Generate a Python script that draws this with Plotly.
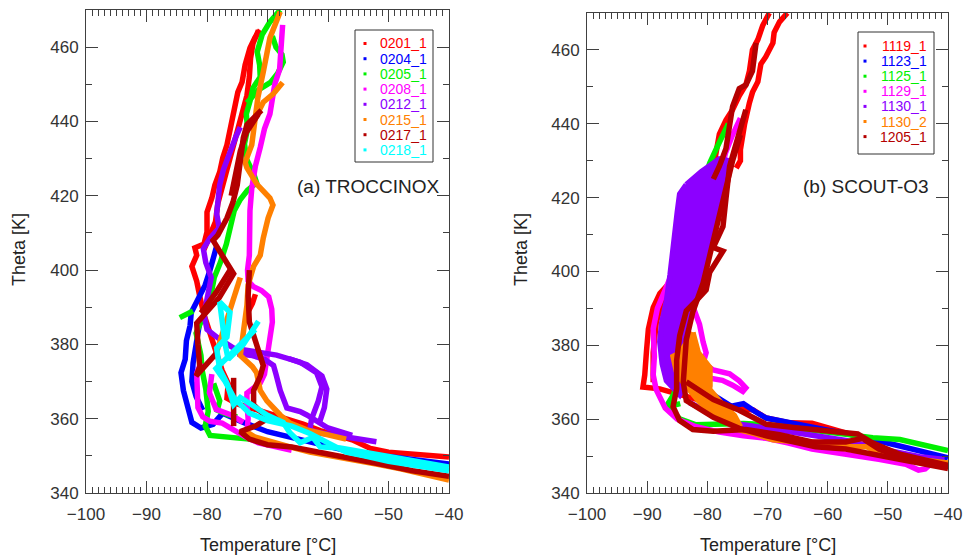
import plotly.graph_objects as go

# ---------------------------------------------------------------------------
# Flight profiles: (temperature [degC], potential temperature [K]); None = gap
# ---------------------------------------------------------------------------

# (a) TROCCINOX
F0201_1 = [
    (-40, 349.7), (-45, 350.3), (-50, 351), (-53, 352), (-56, 354.3), (-59, 355.8), (-61.3, 356.8),
    (-64, 358.5), (-68, 360.5), (-72, 362.5), (-75, 364), (-76.7, 365.5), (-76.5, 369.5), (-77.5, 373),
    (-79, 380), (-80.5, 388), (-81.2, 393), (-81.7, 397), (-82.5, 401), (-81.7, 404), (-82, 406),
    (-80.5, 407), (-80, 410.3), (-80, 415.6), (-79.2, 419.4), (-78.7, 422.9), (-77.9, 426.4),
    (-77.4, 430.2), (-76.7, 433.7), (-76.2, 437.2), (-75.9, 440.9), (-75.4, 444.4), (-74.9, 447.9),
    (-74.2, 450.6), (-73.7, 455.2), (-72.9, 459.8), (-72.1, 462.5), (-71.2, 464.6),
    None,
    (-80.5, 405.5), (-79.6, 409), (-78.6, 413), (-78.2, 418), (-77, 425), (-76, 431), (-75, 437),
    (-74.2, 442), (-73.4, 447), (-73, 452), (-72.8, 457), (-72.4, 461), (-71.5, 464.5),
    None,
    (-73.3, 388.5), (-72.5, 391), (-72, 393.5),
]

F0204_1 = [
    (-40, 347.8), (-44.5, 348.8), (-48.6, 349.8), (-52, 350.2), (-56, 351), (-60, 352.5), (-65, 354.5),
    (-70, 356.5), (-74, 359), (-77.4, 361.5), (-79, 358.5), (-81, 357.5), (-82.5, 359), (-83.2, 362.9),
    (-83.9, 367.6), (-84.3, 372.4), (-83.6, 376), (-83.4, 381), (-82.8, 385), (-82.6, 388.6),
    (-81.5, 392), (-80.3, 396), (-79.5, 400), (-79, 403), (-78.4, 406.5),
    None,
    (-80.7, 362.3), (-81.8, 366), (-82.5, 370), (-82.3, 375), (-81.8, 380), (-81.2, 386),
]

F0205_1 = [
    (-73, 354.5), (-76, 354.8), (-79.5, 355.5), (-80.3, 358), (-79.8, 362), (-80.2, 368), (-80.8, 373),
    (-81, 377), (-81.8, 383), (-80.5, 388), (-79.5, 392), (-78.8, 398), (-77.8, 402), (-76.8, 407),
    (-76.2, 412), (-75.5, 416), (-74.5, 419), (-73.3, 421.5), (-71.8, 423.5), (-72.3, 426),
    (-73.5, 430), (-73.8, 434), (-73.3, 438), (-73.5, 442), (-72.8, 446), (-72.4, 449), (-71.2, 452),
    (-71.3, 455.2), (-71.7, 458.7), (-70.9, 463.3), (-69.6, 466.8), (-67.9, 470),
    None,
    (-73.4, 445), (-71.5, 448.5), (-69.5, 450.5), (-68.3, 453), (-67.4, 456), (-67.6, 458),
    (-68.6, 460), (-69.2, 463),
    None,
    (-84.5, 387.2), (-83.5, 388), (-82.3, 389),
    None,
    (-78.9, 369.5), (-77.9, 364.8), (-78.3, 362.3), (-76.5, 361), (-75, 360.5),
]

F0208_1 = [
    (-66, 351.5), (-69, 352.5), (-71.5, 353.5), (-73.5, 355), (-75.5, 357), (-77.5, 358.8),
    (-79.5, 359.3), (-80.7, 360.5), (-81.5, 363), (-81.5, 366), (-81.7, 369), (-81.7, 372.3), (-81, 375),
    None,
    (-73.4, 356.5), (-73.2, 360), (-73.4, 364), (-73.4, 366.9), (-72.5, 368), (-71.2, 369.6),
    (-70.5, 372), (-70.1, 377), (-69.6, 381.9), (-69.2, 386), (-69.3, 389.5), (-69.8, 392.8),
    (-71, 394.5), (-72.3, 395.5), (-73.2, 397.1), (-73.3, 400), (-73, 404), (-73, 410), (-72.9, 416),
    (-72.6, 422), (-72, 428), (-71.2, 433), (-70.5, 438), (-69.6, 442), (-69.2, 446), (-68.8, 450),
    (-68, 454), (-67.8, 458), (-67.8, 462), (-67.5, 466),
    None,
    (-79.2, 372), (-79.6, 367), (-78.5, 362.5), (-76, 361), (-74, 359),
]

F0212_1 = [
    (-52, 353.8), (-54, 354.3), (-56.4, 354.8), (-59, 355.5), (-61.5, 356.2), (-63, 357.1),
    (-62.7, 360), (-61.6, 364.8), (-61, 368.6), (-61.9, 372.4), (-64.6, 375.2), (-68.5, 377.1),
    (-72.3, 378.1), (-75.6, 379), (-78, 381.5), (-80, 384), (-80.5, 388), (-80, 393), (-79.3, 398),
    (-80.2, 402), (-80.6, 405.7), (-79.5, 408.6), (-78, 411.4), (-78.4, 415.2), (-77.9, 422.9),
    (-77.3, 427), (-76.2, 432), (-75.2, 436), (-74.5, 438.5),
    None,
    (-56, 355.5), (-60, 357.5), (-63.5, 361), (-64.6, 361.9), (-66.8, 362.9), (-67.9, 367.6),
    (-68.6, 372), (-69, 374.3), (-70.5, 376), (-72.5, 377), (-75, 377.5),
    None,
    (-61.5, 358.5), (-60.6, 363), (-60.2, 368), (-61, 371.5), (-63.5, 374.5), (-66.5, 376.2),
]

F0215_1 = [
    (-67.9, 469.5), (-69.6, 462.5), (-70.7, 453.3), (-71.6, 446.3), (-72.1, 440), (-72.6, 433.7),
    (-73.7, 429), (-73.4, 427.5), (-71.7, 423), (-69.6, 419.4), (-69.1, 417.5), (-69.9, 414),
    (-70.7, 408.6), (-71.2, 404), (-72.3, 401), (-73.2, 396), (-73.4, 390.5), (-74, 382), (-74.5, 377),
    (-72.5, 374), (-71.8, 372.4), (-71.2, 367.6), (-70.1, 364.8), (-67.9, 361), (-66.3, 358.8),
    (-63.5, 357), (-60, 355.5), (-57, 354.5),
    None,
    (-40, 343.5), (-45, 345.5), (-48, 346.5), (-52, 347.8), (-55.5, 348.8), (-59, 349.7), (-63, 351),
    (-66.3, 352.4), (-69, 353.5), (-72, 355), (-74, 357),
    None,
    (-67.5, 450.5), (-69, 447.5), (-70.7, 445.2), (-72, 441),
    None,
    (-74.5, 398), (-75.5, 393), (-76.7, 387), (-77.5, 382), (-78.4, 378),
]

F0217_1 = [
    (-71, 443), (-72, 441.5), (-73.4, 439.1), (-74, 435.6), (-74.5, 428.3), (-75, 422.9),
    (-75.7, 418.3), (-76.7, 414), (-78.2, 409.4), (-79, 408), (-77.5, 404), (-75.6, 399),
    (-78, 392.5), (-80, 389), (-81.7, 385.7), (-81.5, 380), (-81.2, 374), (-81.8, 371.5),
    (-80, 374.5), (-78.5, 377.5),
    None,
    (-40, 344.5), (-46, 346), (-52, 348), (-56, 349.2), (-60, 350.3), (-66, 352.4), (-70, 353),
    (-73, 354.5), (-74.5, 356.5), (-72, 358), (-70, 360), (-72.3, 363.8), (-72.3, 367.6),
    (-71.2, 371.4), (-70.7, 374.3), (-71.8, 380), (-73, 386), (-73.2, 393), (-73, 400),
    None,
    (-75.6, 358), (-75.6, 364), (-75.6, 371),
    None,
    (-71.5, 442), (-73.5, 437), (-74.5, 432), (-75.2, 426), (-76, 420),
    None,
    (-76, 400.5), (-78.5, 394), (-81, 388.5),
]

F0218_1 = [
    (-40, 347), (-44, 348.2), (-48, 349.4), (-52.6, 350.8), (-55.2, 351.6), (-58, 352.1),
    (-61.3, 352.4), (-62.5, 355), (-64.6, 353.5), (-66.3, 356.2), (-67.4, 359), (-70.1, 361),
    (-71.8, 362.9), (-73.4, 364.8), (-74.5, 365.7), (-75.6, 363.8), (-76.2, 366.7), (-76.7, 369.5),
    (-77.9, 373.3), (-78.4, 379), (-76.7, 382), (-76.2, 388.6), (-77.9, 391.4), (-77.5, 386),
    (-77, 380), (-76.5, 376), (-74, 380), (-71.5, 386.2),
    None,
    (-40, 346), (-45, 347.2), (-50, 348.5), (-54, 350), (-57, 351), (-60, 353.5), (-63, 356),
    (-66, 358), (-70, 359.5), (-73, 361.5), (-75.5, 365.5), (-77, 370), (-78.5, 373.5), (-76, 377.5),
    (-73.5, 381.5), (-72, 384),
]

# (b) SCOUT-O3
F1119_1 = [
    (-55, 355.3), (-59.3, 357.5), (-62.6, 358.9), (-66.3, 359), (-70.2, 360.3), (-72.4, 362.5),
    (-75, 363), (-78, 363.5), (-81, 365), (-84, 366.5), (-87.9, 368.2), (-90.7, 368.7), (-90.4, 372),
    (-90.1, 378.7), (-89.8, 384.4), (-89, 390.2), (-87.9, 394), (-85.7, 397.9), (-84.5, 403),
    (-83.5, 408), (-82, 414), (-80.5, 420), (-79, 428), (-78, 437.2), (-76.9, 441), (-75.8, 443.8),
    (-74.7, 447.6), (-73.6, 450.5), (-73, 454.3), (-72.5, 460), (-71.6, 462.8), (-70.8, 466.6),
    (-69.7, 470),
    None,
    (-66.7, 470), (-68, 467.6), (-68.9, 464.7), (-69.1, 461.9), (-70.3, 458.1), (-71.1, 456.2),
    (-71.6, 451.4), (-72.5, 448.5), (-73, 445.7), (-73.8, 440), (-74.5, 433), (-74.5, 430), (-75.2, 428),
    None,
    (-89, 370), (-89, 378), (-88.5, 386), (-87.5, 392), (-86, 396),
]

F1123_1 = [
    (-40, 349.5), (-43, 350.7), (-46.8, 352.5), (-50, 353.8), (-55, 355.5), (-60, 357), (-65, 358.5),
    (-70.2, 360.3), (-72, 362), (-74, 364.2), (-76, 363.5), (-77, 364.5), (-79, 366.5), (-82, 368),
    (-84, 372), (-85, 380), (-85.5, 390), (-86.2, 398.9),
]

F1125_1 = [
    (-40, 351.5), (-42.5, 352.5), (-45, 353.5), (-48, 354.5), (-52.5, 355), (-55, 355.5), (-58, 356.3),
    (-62, 357), (-66, 357.8), (-70, 358.5), (-74, 358.8), (-78, 358.5), (-82, 358.5), (-84.5, 360),
    (-86.8, 363.5), (-85.5, 367), (-85, 375), (-85.5, 385), (-86, 393), (-85.6, 400), (-85.1, 406.7),
    (-84, 416.3), (-82.4, 419.8), (-80.5, 425), (-79.6, 429.4), (-78, 435), (-76.5, 440),
    None,
    (-87.2, 362.8), (-86, 363.6), (-84.5, 364.2),
]

F1129_1 = [
    (-42.7, 348.1), (-43.8, 346.5), (-44.9, 346.2), (-47, 347.8), (-51.5, 349.1), (-57, 350.5),
    (-62.6, 351.9), (-66.5, 353.5), (-70.2, 354.8), (-74, 355.5), (-78, 356.5), (-82, 358), (-85, 360),
    (-87, 363), (-88.5, 368), (-89, 372), (-88.8, 377), (-89, 384.4), (-88.3, 390), (-87, 395),
    (-85.8, 400), (-84.5, 405), (-83, 410), (-81.5, 414), (-80, 418), (-79, 420), (-78, 425),
    (-77, 432), (-75.8, 437), (-74.5, 441.5),
    None,
    (-82.4, 390.5), (-81.3, 385.7), (-80.7, 380.9), (-80.2, 378), (-80.7, 375.2), (-79, 373.3),
    (-76.3, 372.3), (-74.7, 370.4), (-73.6, 368.5), (-74.1, 367.5), (-75.8, 369.2), (-77.5, 370.5),
    (-80, 371.2), (-82, 371.5),
]

# dense part of 1130_1: outline of the region covered by its many legs
F1130_1_AREA = [
    (-83.5, 423.5), (-84.6, 421), (-85, 416), (-85.3, 411), (-85.8, 405), (-86.2, 399), (-86.8, 392),
    (-87.6, 386), (-87.9, 381), (-87.5, 375), (-86.8, 370.4), (-84.6, 366.6), (-83.5, 370), (-84, 376),
    (-83.5, 383), (-83, 388), (-81.8, 394), (-80.8, 400), (-79.6, 406), (-78.8, 412), (-78, 419),
    (-77.2, 425), (-76.5, 430), (-78, 430.5), (-81, 427), (-83.5, 423.5),
]
F1130_1 = [
    (-40.6, 349.1), (-44.7, 349.8), (-49.3, 351.3), (-53, 352.8), (-57, 354.2), (-62, 355.5),
    (-68, 357.1), (-72, 357.8), (-76, 359), (-80, 362), (-83, 364.5),
    None,
    (-79, 361), (-81, 365), (-82.5, 368),
]

# dense part of 1130_2
F1130_2_AREA = [
    (-82.4, 383.5), (-84.5, 378), (-85.7, 377), (-85, 372), (-83.5, 369), (-81.5, 365), (-79, 361),
    (-76, 358.5), (-74.5, 358), (-75.5, 361), (-77.5, 364), (-79.6, 368), (-79.6, 374), (-81.5, 378),
    (-82.4, 383.5),
]
F1130_2 = [
    (-40, 348.1), (-43, 348.8), (-46, 349.3), (-50.2, 349.8), (-53.5, 352.5), (-58, 352.5),
    (-62.6, 353.8), (-66, 354), (-69.1, 354.4), (-72, 356), (-74.6, 357.1), (-75.8, 358.6), (-78, 361),
    (-80, 364), (-81.3, 365.3), (-79.6, 369.1), (-79.6, 373.9), (-82.4, 377), (-82.4, 383.5),
]

F1205_1 = [
    (-71.9, 461.9), (-72.5, 454.3), (-73.6, 450.5), (-74.7, 449.5), (-75.8, 444.7), (-76.3, 439),
    (-76.9, 433.3), (-78, 428.5), (-79, 425),
    None,
    (-73.6, 443.8), (-75.2, 435.2), (-76.3, 428.5), (-76.9, 419.8), (-77.4, 412.2), (-79, 406.5),
    (-77.4, 405.5), (-79.6, 399.8), (-80.2, 395), (-81.8, 392.2), (-83.5, 389.3), (-84.6, 382.6),
    (-85.1, 375.9), (-85.1, 368.2), (-85.7, 363.4), (-84.6, 359.6), (-82.4, 357.2), (-79, 356.7),
    (-73.6, 357.2), (-68, 355.8), (-62.6, 353.8), (-57, 353.8), (-54.2, 354.8), (-51.5, 351.9),
    (-47.1, 349.1), (-40, 347.2),
    None,
    (-40, 346.6), (-46, 348.5), (-52, 350.5), (-57, 351.9), (-62, 352.5), (-66, 353.8), (-70.2, 355.5),
    (-74.7, 357.5), (-79, 360.5), (-83.5, 365), (-84, 370), (-83.5, 381.5), (-82.4, 389.1),
    (-80.7, 396.9), (-79.6, 404.5), (-78, 414.1), (-76.9, 422.7), (-75.8, 430), (-74.5, 437),
    None,
    (-83.5, 370.1), (-79, 365.3), (-74.7, 362.4), (-70.2, 358.6), (-65.3, 357.7), (-60, 356.8),
    (-57, 356.5), (-55, 356), (-52.5, 353.5), (-48, 350.5), (-40, 347.5),
]

# flight name, colour, profile, filled area (or None) per campaign
TROCCINOX = [
    ("0201_1", "#ff0000", F0201_1, None),
    ("0204_1", "#0000ff", F0204_1, None),
    ("0205_1", "#00f000", F0205_1, None),
    ("0208_1", "#ff00ff", F0208_1, None),
    ("0212_1", "#8c00ff", F0212_1, None),
    ("0215_1", "#ff8000", F0215_1, None),
    ("0217_1", "#b40000", F0217_1, None),
    ("0218_1", "#00ffff", F0218_1, None),
]
SCOUT_O3 = [
    ("1119_1", "#ff0000", F1119_1, None),
    ("1123_1", "#0000ff", F1123_1, None),
    ("1125_1", "#00f000", F1125_1, None),
    ("1129_1", "#ff00ff", F1129_1, None),
    ("1130_1", "#8c00ff", F1130_1, F1130_1_AREA),
    ("1130_2", "#ff8000", F1130_2, F1130_2_AREA),
    ("1205_1", "#b40000", F1205_1, None),
]

W, H = 963, 557
FONT = "Liberation Sans, Arial, sans-serif"
AXC = "#404040"
LW = 5.5


def split(points):
    xs, ys = [], []
    for p in points:
        if p is None:
            xs.append(None)
            ys.append(None)
        else:
            xs.append(p[0])
            ys.append(p[1])
    return xs, ys


fig = go.Figure()
for flights, xa, ya in [(TROCCINOX, "x", "y"), (SCOUT_O3, "x2", "y2")]:
    for name, color, pts, area in flights:
        if area is not None:
            ax_, ay_ = split(area)
            fig.add_trace(go.Scatter(
                x=ax_, y=ay_, mode="lines", fill="toself", fillcolor=color,
                xaxis=xa, yaxis=ya, line=dict(color=color, width=LW),
                showlegend=False, hoverinfo="skip",
            ))
        xs, ys = split(pts)
        fig.add_trace(go.Scatter(
            x=xs, y=ys, mode="lines", name=name, xaxis=xa, yaxis=ya,
            line=dict(color=color, width=LW), showlegend=False,
            connectgaps=False, hoverinfo="skip",
        ))


def xaxis(domain, anchor):
    return dict(
        domain=domain, anchor=anchor, range=[-100, -40], automargin=False,
        tickvals=[-100, -90, -80, -70, -60, -50, -40],
        ticks="inside", ticklen=12, tickwidth=1, tickcolor=AXC,
        minor=dict(dtick=1, ticks="inside", ticklen=6, tickwidth=1, tickcolor=AXC, showgrid=False),
        showline=True, linecolor=AXC, linewidth=1, mirror="allticks",
        showgrid=False, zeroline=False,
        tickfont=dict(family=FONT, size=17, color="#333"),
        ticklabelstandoff=6,
    )


def yaxis(domain, anchor):
    return dict(
        domain=domain, anchor=anchor, range=[340, 470], automargin=False,
        tick0=340, dtick=20,
        ticks="inside", ticklen=12, tickwidth=1, tickcolor=AXC,
        minor=dict(tick0=340, dtick=10, ticks="inside", ticklen=6, tickwidth=1, tickcolor=AXC, showgrid=False),
        showline=True, linecolor=AXC, linewidth=1, mirror="allticks",
        showgrid=False, zeroline=False,
        tickfont=dict(family=FONT, size=17, color="#333"),
        ticklabelstandoff=3,
    )


fig.update_layout(
    width=W, height=H,
    margin=dict(l=0, r=0, t=0, b=0),
    paper_bgcolor="white", plot_bgcolor="white",
    showlegend=False,
    xaxis=xaxis([86 / W, 449 / W], "y"),
    yaxis=yaxis([64 / H, 1 - 10 / H], "x"),
    xaxis2=xaxis([587 / W, 948 / W], "y2"),
    yaxis2=yaxis([64 / H, 1 - 13 / H], "x2"),
)

shapes = []
annotations = []


def px(x):
    return x / W


def py(y):
    return 1 - y / H


# per-panel key boxes: (box left, right, top, bottom, first row y, row step, dot x, text right)
keys = [
    (TROCCINOX, 355, 433, 30, 162, 43.5, 15.2, 365, 429),
    (SCOUT_O3, 858, 934, 32, 154, 46, 15.1, 865, 929),
]
for flights, x0, x1, y0, y1, r0, dr, dot_x, txt_x in keys:
    shapes.append(dict(type="rect", xref="paper", yref="paper",
                       x0=px(x0), x1=px(x1), y0=py(y1), y1=py(y0),
                       line=dict(color="#333", width=1), fillcolor="rgba(0,0,0,0)"))
    for i, (name, color, _, _) in enumerate(flights):
        yc = r0 + i * dr
        shapes.append(dict(type="rect", xref="paper", yref="paper",
                           xsizemode="pixel", ysizemode="pixel",
                           xanchor=px(dot_x), yanchor=py(yc),
                           x0=-1.5, x1=1.5, y0=-1.5, y1=1.5,
                           fillcolor=color, line=dict(width=0)))
        annotations.append(dict(xref="paper", yref="paper", x=px(txt_x), y=py(yc),
                                xanchor="right", yanchor="middle", showarrow=False,
                                text=name, font=dict(family=FONT, size=14, color=color)))

# panel labels
annotations.append(dict(xref="paper", yref="paper", x=px(441), y=py(186), xanchor="right",
                        yanchor="middle", showarrow=False, text="(a) TROCCINOX",
                        font=dict(family=FONT, size=19, color="#222")))
annotations.append(dict(xref="paper", yref="paper", x=px(931), y=py(186), xanchor="right",
                        yanchor="middle", showarrow=False, text="(b) SCOUT-O3",
                        font=dict(family=FONT, size=19, color="#222")))

# axis titles
for cx in (268, 768):
    annotations.append(dict(xref="paper", yref="paper", x=px(cx), y=py(545), xanchor="center",
                            yanchor="middle", showarrow=False, text="Temperature [°C]",
                            font=dict(family=FONT, size=18, color="#222")))
for cx in (19, 521):
    annotations.append(dict(xref="paper", yref="paper", x=px(cx), y=py(250), xanchor="center",
                            yanchor="middle", showarrow=False, text="Theta [K]", textangle=-90,
                            font=dict(family=FONT, size=18, color="#222")))

fig.update_layout(shapes=shapes, annotations=annotations)
fig.write_html("out.html")
